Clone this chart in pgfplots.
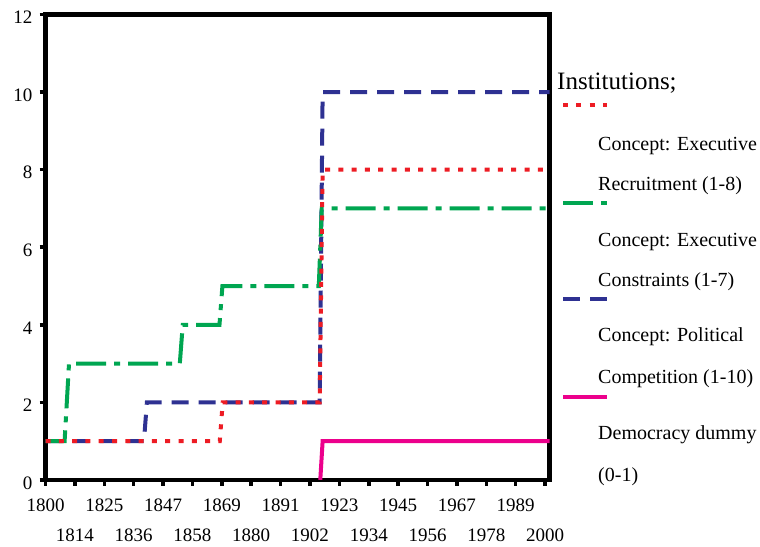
\documentclass[border=0pt]{standalone}
\usepackage{fontspec}
\setmainfont{Liberation Serif}
\usepackage{pgfplots}
\pgfplotsset{compat=1.18}
\definecolor{cred}{HTML}{ED1C24}
\definecolor{cgreen}{HTML}{00A651}
\definecolor{cblue}{HTML}{2E3192}
\definecolor{cpink}{HTML}{EC008C}
\begin{document}
\begin{tikzpicture}[x=1pt,y=1pt]
\useasboundingbox (0,0) rectangle (760,546);
\begin{axis}[
  at={(45.5pt,66pt)}, anchor=south west,
  scale only axis, width=504pt, height=465.5pt,
  xmin=0, xmax=17.15, ymin=0, ymax=12,
  axis line style={line width=4.5pt, black},
  tick pos=left, tick align=outside,
  major tick length=6pt,
  every tick/.style={black, line width=3.5pt},
  /pgf/number format/assume math mode=true,
  ytick={0,2,...,12},
  yticklabels={0,2,4,6,8,10,12},
  xtick={0,2,...,16},
  xticklabels={1800,1825,1847,1869,1891,1923,1945,1967,1989},
  extra x ticks={1,3,...,17},
  extra x tick labels={1814,1836,1858,1880,1902,1934,1956,1978,2000},
  extra x tick style={xticklabel style={yshift=-30.5pt}},
  tick label style={font=\fontsize{19}{23}\selectfont},
  yticklabel style={inner sep=0pt, anchor=east, xshift=-7pt, yshift=-3pt},
  xticklabel style={inner sep=0pt, anchor=north, yshift=-12.5pt},
  line cap=butt,
]
\addplot[cblue, line width=4pt, dash pattern=on 17pt off 10pt] coordinates {
 (0,1) (3.35,1) (3.45,2) (9.33,2) (9.43,10) (17.15,10)};
\addplot[cgreen, line width=4pt, dash pattern=on 30pt off 8pt on 6pt off 8pt] coordinates {
 (0,1) (0.65,1) (0.80,3) (4.57,3) (4.67,4) (5.92,4) (6.02,5) (9.30,5) (9.40,7) (17.15,7)};
\addplot[cred, line width=4pt, dash pattern=on 5pt off 8.3pt] coordinates {
 (0,1) (5.93,1) (6.03,2) (9.33,2) (9.43,8) (17.15,8)};
\addplot[cpink, line width=4pt] coordinates {
 (9.35,0) (9.43,1) (17.15,1)};
\end{axis}
% legend
\draw[cred, line width=4pt, dash pattern=on 5pt off 8.3pt] (563,441) -- (607,441);
\draw[cgreen, line width=4pt, dash pattern=on 30pt off 8pt on 6pt off 8pt] (563,343) -- (607,343);
\draw[cblue, line width=4pt, dash pattern=on 17pt off 10pt] (563,247) -- (607,247);
\draw[cpink, line width=4pt] (563,149) -- (607,149);
\node[anchor=west, inner sep=0pt, font=\fontsize{25}{30}\selectfont] at (557,463) {Institutions;};
\begin{scope}[every node/.style={anchor=west, inner sep=0pt, font=\fontsize{20}{24}\selectfont}]
\node at (598,400) {Concept: Executive};
\node at (598,360) {Recruitment (1-8)};
\node at (598,304) {Concept: Executive};
\node at (598,264) {Constraints (1-7)};
\node at (598,209) {Concept: Political};
\node at (598,167) {Competition (1-10)};
\node at (598,111) {Democracy dummy};
\node at (598,69) {(0-1)};
\end{scope}
\end{tikzpicture}
\end{document}
